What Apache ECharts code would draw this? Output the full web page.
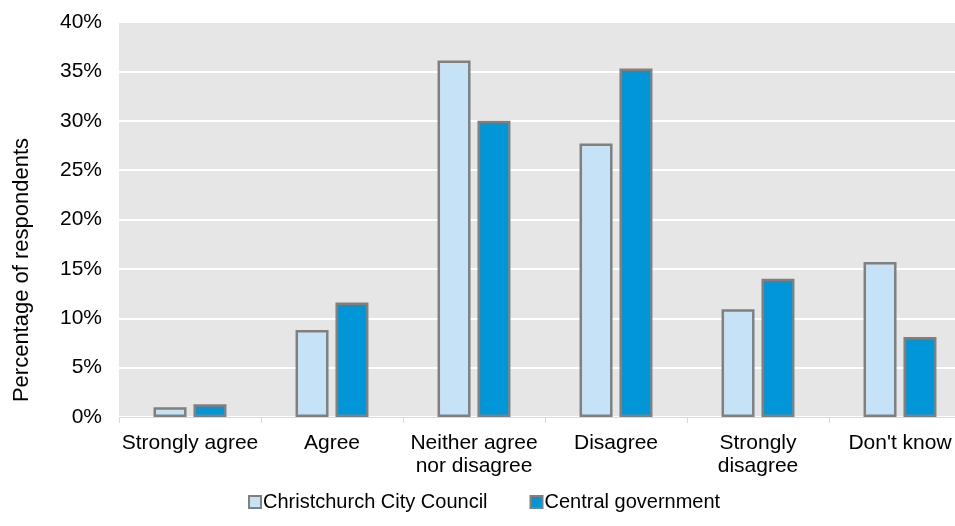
<!DOCTYPE html>
<html>
<head>
<meta charset="utf-8">
<script src="https://cdn.jsdelivr.net/npm/echarts@6/dist/echarts.min.js"></script>
<style>
  html, body { margin: 0; padding: 0; background: #ffffff; overflow: hidden; }
  #chart { width: 955px; height: 526px; }
</style>
</head>
<body>
<div id="chart"></div>
<script>
// Survey responses, percentage of respondents per answer
const categories = ['Strongly agree', 'Agree', 'Neither agree\nnor disagree', 'Disagree', 'Strongly\ndisagree', "Don't know"];
const councilValues = [1.0, 8.8, 36.1, 27.7, 10.9, 15.7];
const governmentValues = [1.3, 11.6, 30.0, 35.3, 14.0, 8.1];
const seriesNames = ['Christchurch City Council', 'Central government'];
const yTicks = { min: 0, max: 40, interval: 5 };
const yTitle = 'Percentage of respondents';

const FONT = 'Liberation Sans, Arial, sans-serif';
const FS = 21;
const chart = echarts.init(document.getElementById('chart'), null, { renderer: 'canvas' });

chart.setOption({
  animation: false,
  textStyle: { fontFamily: FONT },
  // plot area runs a little past the right edge of the canvas
  grid: {
    left: 119, width: 852, top: 22, bottom: 109,
    outerBoundsMode: 'none', containLabel: false,
    show: true, backgroundColor: '#e6e6e6', borderWidth: 0
  },
  graphic: [{
    type: 'text',
    x: 22,
    y: 270,
    rotation: Math.PI / 2,
    style: {
      text: yTitle,
      fontFamily: FONT,
      fontSize: 22,
      fill: '#000',
      align: 'center',
      verticalAlign: 'middle'
    }
  }],
  legend: {
    top: 487,
    left: 243,
    itemWidth: 12,
    itemHeight: 12,
    itemGap: 42,
    textStyle: { fontFamily: FONT, fontSize: 20, color: '#000', padding: [0, 0, 0, -3] },
    data: seriesNames.map(n => ({ name: n, icon: 'rect' }))
  },
  xAxis: {
    type: 'category',
    data: categories,
    axisLine: { lineStyle: { color: '#d9d9d9', width: 1 } },
    axisTick: { show: true, length: 6, lineStyle: { color: '#d9d9d9' } },
    axisLabel: { fontFamily: FONT, fontSize: FS, color: '#000', margin: 15, lineHeight: 23, interval: 0 }
  },
  yAxis: {
    type: 'value',
    min: yTicks.min,
    max: yTicks.max,
    interval: yTicks.interval,
    axisLine: { show: false },
    axisTick: { show: false },
    splitLine: { lineStyle: { color: '#ffffff', width: 2 } },
    axisLabel: { fontFamily: FONT, fontSize: FS, color: '#000', margin: 17, formatter: v => v + '%' }
  },
  series: [
    {
      name: seriesNames[0],
      type: 'bar',
      data: councilValues,
      barWidth: 33,
      barGap: '21%',
      itemStyle: { color: '#c6e2f7', borderColor: '#808080', borderWidth: 2.5 }
    },
    {
      name: seriesNames[1],
      type: 'bar',
      data: governmentValues,
      barWidth: 33,
      itemStyle: { color: '#0096d8', borderColor: '#808080', borderWidth: 2.5 }
    }
  ]
});
</script>
</body>
</html>
